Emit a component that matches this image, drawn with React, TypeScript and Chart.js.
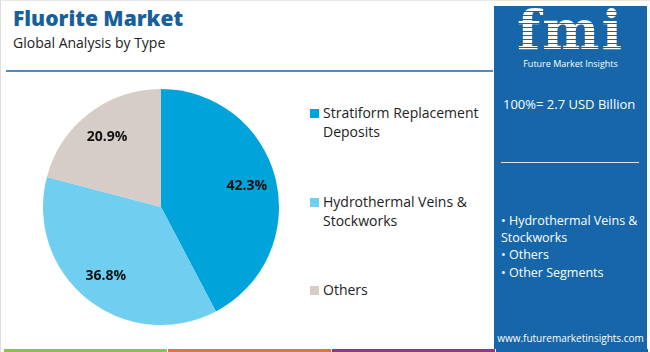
import React, { useEffect, useRef } from "react";
import { Chart, registerables } from "chart.js";

Chart.register(...registerables);

const categories = ["Stratiform Replacement Deposits", "Hydrothermal Veins & Stockworks", "Others"];
const legendLines = [["Stratiform Replacement", "Deposits"], ["Hydrothermal Veins &", "Stockworks"], ["Others"]];
const shares = [42.3, 36.8, 20.9];
const colors = ["#00a3da", "#70cff1", "#d6ccc8"];
const title = "Fluorite Market";
const subtitle = "Global Analysis by Type";
const totalLabel = "100%= 2.7 USD Billion";
const bullets = ["• Hydrothermal Veins &", "Stockworks", "• Others", "• Other Segments"];
const website = "www.futuremarketinsights.com";
const footerColors = ["#8cc14b", "#e8703a", "#8a3a8c", "#1565a8"];

const FONT = "'Open Sans', 'DejaVu Sans', sans-serif";

const labelPlugin = {
  id: "sliceLabels",
  afterDatasetsDraw(chart: any) {
    const ctx = chart.ctx;
    const meta = chart.getDatasetMeta(0);
    ctx.save();
    ctx.font = `bold 14px ${FONT}`;
    ctx.fillStyle = "#111";
    ctx.textAlign = "center";
    ctx.textBaseline = "middle";
    meta.data.forEach((arc: any, i: number) => {
      const p = arc.getProps(["x", "y", "startAngle", "endAngle", "outerRadius"], true);
      const mid = (p.startAngle + p.endAngle) / 2;
      const r = p.outerRadius * 0.75;
      ctx.fillText(shares[i].toFixed(1) + "%", p.x + Math.cos(mid) * r, p.y + Math.sin(mid) * r);
    });
    ctx.restore();
  },
};

function PieChart() {
  const ref = useRef<HTMLCanvasElement>(null);
  useEffect(() => {
    if (!ref.current) return;
    const chart = new Chart(ref.current, {
      type: "pie",
      data: {
        labels: categories,
        datasets: [{ data: shares, backgroundColor: colors, borderWidth: 0 }],
      },
      options: {
        animation: false,
        responsive: false,
        layout: { padding: 12 },
        plugins: { legend: { display: false }, tooltip: { enabled: false } },
      },
      plugins: [labelPlugin],
    });
    return () => chart.destroy();
  }, []);
  return <canvas ref={ref} width={260} height={260} style={{ position: "absolute", left: 30, top: 76, width: 260, height: 260 }} />;
}

export default function App() {
  useEffect(() => {
    document.body.style.margin = "0";
  }, []);
  const legendTops = [102, 191, 279];
  const bulletTops = [206, 223, 240, 258];
  return (
    <div style={{ position: "fixed", left: 0, top: 0, width: 650, height: 352, background: "#fff", overflow: "hidden", fontFamily: FONT, boxSizing: "border-box", borderLeft: "1px solid #ddd", borderTop: "1px solid #e6e6e6" }}>
      <div style={{ position: "absolute", left: 12, top: 3, fontSize: 21, fontWeight: 800, color: "#17609c", letterSpacing: 0 }}>{title}</div>
      <div style={{ position: "absolute", left: 12, top: 32, fontSize: 14, color: "#222" }}>{subtitle}</div>
      <div style={{ position: "absolute", left: 5, top: 69, width: 487, height: 2, background: "#4a8cc4" }} />
      <PieChart />
      {legendLines.map((lines, i) => (
        <div key={i} style={{ position: "absolute", left: 309, top: legendTops[i] }}>
          <div style={{ position: "absolute", left: 0, top: 6, width: 9, height: 9, background: colors[i] }} />
          {lines.map((t, j) => (
            <div key={j} style={{ position: "absolute", left: 13, top: j * 19, fontSize: 14, color: "#222", whiteSpace: "nowrap" }}>{t}</div>
          ))}
        </div>
      ))}
      <div style={{ position: "absolute", left: 493, top: 5, width: 153, height: 343, background: "#1666a9", color: "#fff" }}>
        <div style={{ position: "absolute", left: 0, width: 153, top: -6, textAlign: "center", fontSize: 54, fontWeight: 700, fontFamily: "'DejaVu Serif', serif", letterSpacing: 2, lineHeight: "60px", color: "transparent", backgroundImage: "repeating-linear-gradient(#fff 0 3px, #1666a9 3px 4px)", WebkitBackgroundClip: "text", backgroundClip: "text" }}>fmi</div>
        <div style={{ position: "absolute", left: 0, width: 153, top: 51, textAlign: "center", fontSize: 9, color: "#fff" }}>Future Market Insights</div>
        <div style={{ position: "absolute", left: 9, top: 89, fontSize: 13, whiteSpace: "nowrap" }}>{totalLabel}</div>
        <div style={{ position: "absolute", left: 7, top: 156, width: 138, height: 1, background: "#d7e4f0" }} />
        {bullets.map((b, i) => (
          <div key={i} style={{ position: "absolute", left: 7, top: bulletTops[i], fontSize: 12.5, whiteSpace: "nowrap" }}>{b}</div>
        ))}
        <div style={{ position: "absolute", left: 0, width: 153, top: 325, textAlign: "center", fontSize: 10, whiteSpace: "nowrap" }}>{website}</div>
      </div>
      {footerColors.map((c, i) => (
        <div key={i} style={{ position: "absolute", left: 3 + i * 164, top: 348, width: i === 3 ? 152 : 163, height: 4, background: c }} />
      ))}
    </div>
  );
}
